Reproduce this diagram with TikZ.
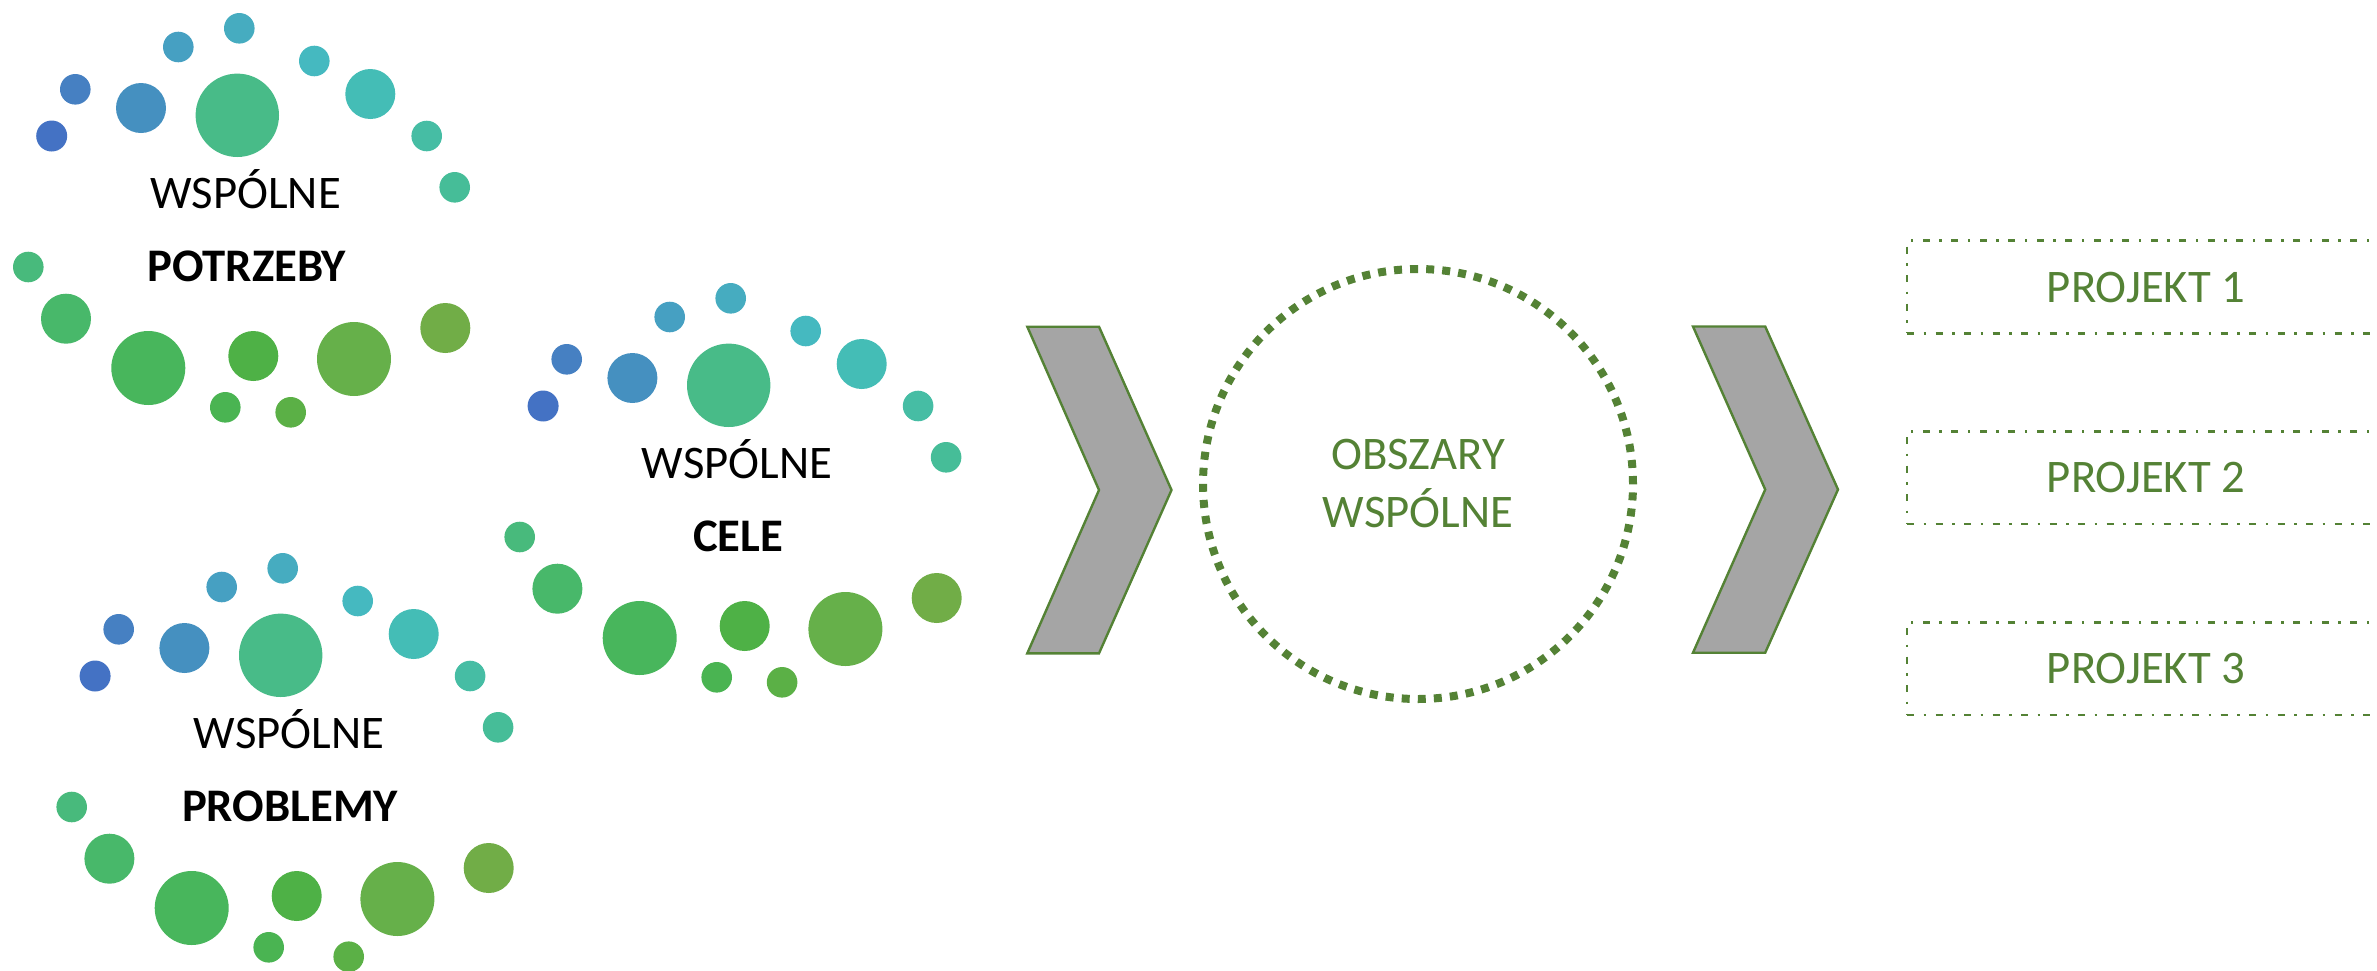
\documentclass[tikz,border=0pt]{standalone}
\usepackage{fontspec}
\setmainfont{Carlito}
\definecolor{dkgreen}{HTML}{548235}
\definecolor{chevgray}{HTML}{A5A5A5}
\definecolor{cA}{HTML}{46ACC0}
\definecolor{cB}{HTML}{46A0C2}
\definecolor{cC}{HTML}{45B9C0}
\definecolor{cD}{HTML}{4680C2}
\definecolor{cE}{HTML}{4590C0}
\definecolor{cF}{HTML}{48BB88}
\definecolor{cG}{HTML}{44BDB6}
\definecolor{cH}{HTML}{4472C4}
\definecolor{cI}{HTML}{46BDA4}
\definecolor{cJ}{HTML}{46BD98}
\definecolor{cK}{HTML}{48BA7C}
\definecolor{cL}{HTML}{48B86A}
\definecolor{cM}{HTML}{48B65C}
\definecolor{cN}{HTML}{4EB146}
\definecolor{cO}{HTML}{66B04A}
\definecolor{cP}{HTML}{71AD47}
\definecolor{cQ}{HTML}{4AB452}
\definecolor{cR}{HTML}{5BB046}
% #1,#2: cluster offset; #3,#4: position of the last small dot (cluster coords)
\newcommand\bubblecluster[4]{%
\begin{scope}[shift={(#1,#2)}]
\fill[cA] (239.3,28.3) circle (15.3);
\fill[cB] (178.3,47) circle (15.3);
\fill[cC] (314.3,61) circle (15.3);
\fill[cD] (75.3,89.3) circle (15.3);
\fill[cE] (141,108) circle (25);
\fill[cF] (237.3,115.3) circle (41.7);
\fill[cG] (370.3,94) circle (25);
\fill[cH] (51.7,136) circle (15.5);
\fill[cI] (426.7,136) circle (15.3);
\fill[cJ] (454.7,187.3) circle (15.3);
\fill[cK] (28.3,267) circle (15.3);
\fill[cL] (66,318.7) circle (25);
\fill[cM] (148.3,368) circle (37);
\fill[cN] (253.3,356) circle (25);
\fill[cO] (354,359) circle (37);
\fill[cP] (445.3,328) circle (25);
\fill[cQ] (225.3,407.3) circle (15.3);
\fill[cR] (#3,#4) circle (15.3);
\end{scope}}
\tikzset{
  lbl/.style={font=\fontsize{46.7}{56}\selectfont, inner sep=0pt, anchor=base},
  blbl/.style={lbl, font=\fontsize{46.7}{56}\selectfont\bfseries},
  glbl/.style={lbl, text=dkgreen},
  chev/.style={fill=chevgray, draw=dkgreen, line width=2.4pt},
  projbox/.style={draw=dkgreen, line width=2.6pt, dash pattern=on 7pt off 9.5pt on 2.5pt off 9.5pt,
    minimum width=478pt, minimum height=92.6pt, inner sep=0pt, text=dkgreen,
    font=\fontsize{46.7}{56}\selectfont},
  ring/.style={circle, draw=dkgreen, line width=8pt, dash pattern=on 8pt off 8.08pt,
    minimum size=430pt, inner sep=0pt}
}
\begin{document}
\begin{tikzpicture}[x=1pt,y=-1pt]
\useasboundingbox (0,0) rectangle (2377,970);
% bubble clusters
\bubblecluster{0}{0}{290.7}{412.3}
\bubblecluster{491.4}{270}{290.7}{412.3}
\bubblecluster{43.4}{540}{305.3}{416.7}
\node[lbl]  (w1) at (245.7,208) {WSPÓLNE};
\node[blbl] (t1) at (246.7,281) {POTRZEBY};
\node[lbl]  (w2) at (737.1,478) {WSPÓLNE};
\node[blbl] (t2) at (738.1,551) {CELE};
\node[lbl]  (w3) at (289.1,748) {WSPÓLNE};
\node[blbl] (t3) at (290.1,821) {PROBLEMY};
% chevrons
\draw[chev] (1027.3,326.7) -- (1099,326.7) -- (1171.5,490) -- (1099,653.3) -- (1027.3,653.3) -- (1099,490) -- cycle;
\draw[chev] (1693,326.5) -- (1765.2,326.5) -- (1838,489.5) -- (1765.2,652.7) -- (1693,652.7) -- (1765.2,489.5) -- cycle;
% ring
\node[ring] (ring) at (1418,484) {};
\node[glbl] (o1) at (1418,469.3) {OBSZARY};
\node[glbl] (o2) at (1418,527.3) {WSPÓLNE};
% projects
\node[projbox] (p1) at (2146,287) {PROJEKT 1};
\node[projbox] (p2) at (2146,477.5) {PROJEKT 2};
\node[projbox] (p3) at (2146,668.5) {PROJEKT 3};
\end{tikzpicture}
\end{document}
